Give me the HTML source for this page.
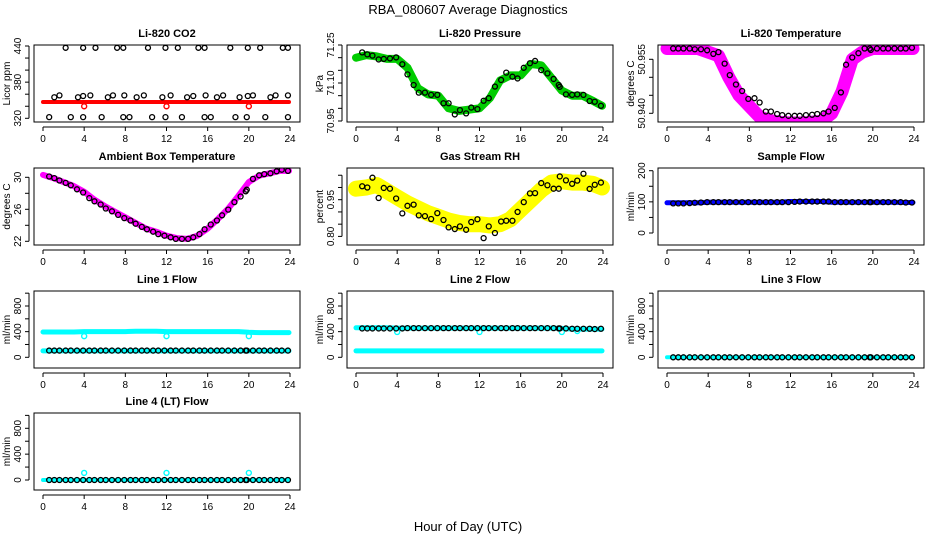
<!DOCTYPE html>
<html><head><meta charset="utf-8"><style>
body{margin:0;background:#fff;}
svg{display:block;font-family:"Liberation Sans",Arial,sans-serif;}
</style></head><body>
<svg id="fig" width="936" height="540" viewBox="0 0 936 540">
<text x="468" y="14" text-anchor="middle" font-size="13">RBA_080607  Average Diagnostics</text>
<text x="468" y="531" text-anchor="middle" font-size="13">Hour of Day (UTC)</text>
</svg>
<script>
// ---- data ----
const hours = [0,1,2,3,4,5,6,7,8,9,10,11,12,13,14,15,16,17,18,19,20,21,22,23,23.9];
const dotT = [0.6,1.1,1.6,2.2,2.7,3.3,3.9,4.5,5.0,5.6,6.1,6.7,7.3,7.9,8.5,9.0,9.6,10.1,10.7,11.2,11.8,12.4,12.9,13.5,14.1,14.6,15.2,15.7,16.3,16.9,17.4,18.0,18.6,19.2,19.7,19.8,20.4,21.0,21.5,22.1,22.7,23.2,23.8];

const co2Band = [347,347,347,347,347,347,347,347,347,347,347,347,347,347,347,347,347,347,347,347,347,347,347,347,347];
const co2DotT = [2.2,3.9,5.1,7.2,7.8,10.2,11.9,13.1,15.1,15.7,18.2,19.9,21.1,23.3,23.8,1.1,1.6,3.4,3.9,4.6,6.3,6.8,7.9,9.1,9.8,11.6,12.4,14,14.6,15.8,16.9,17.5,19.1,19.9,20.4,22.1,22.6,23.8,0.6,2.7,3.9,5.7,7.8,8.4,10.6,11.9,13.5,15.7,16.3,18.7,19.8,21.6,23.8];
const co2DotV = [437,437,437,437,437,437,437,437,437,437,437,437,437,437,437,355,358,355,357,358,355,358,358,355,358,355,358,355,357,358,355,358,355,357,358,355,358,358,322,322,322,322,322,322,322,322,322,322,322,322,322,322,322];
const co2OutT = [4,12,20];
const co2OutV = [340,340,340];

const presBand = [71.20,71.21,71.205,71.195,71.195,71.16,71.08,71.055,71.05,71.0,70.99,70.995,71.0,71.04,71.11,71.13,71.13,71.175,71.17,71.12,71.07,71.05,71.05,71.03,71.01];
const presDotV = [71.221,71.213,71.208,71.193,71.195,71.197,71.201,71.174,71.134,71.092,71.062,71.062,71.053,71.053,71.02,71.02,70.976,70.993,70.98,71.003,70.997,71.03,71.04,71.086,71.112,71.141,71.125,71.118,71.16,71.178,71.187,71.151,71.138,71.116,71.092,71.085,71.055,71.053,71.055,71.053,71.029,71.026,71.01];

const tempBand = [50.958,50.958,50.958,50.958,50.957,50.956,50.950,50.945,50.942,50.939,50.938,50.9375,50.9373,50.9373,50.9375,50.9378,50.940,50.946,50.955,50.957,50.958,50.958,50.958,50.958,50.958];
const tempDotV = [50.958,50.958,50.958,50.958,50.9578,50.9578,50.9575,50.9565,50.957,50.9538,50.9506,50.948,50.9462,50.944,50.9442,50.943,50.9405,50.9405,50.9398,50.9395,50.9393,50.9393,50.9393,50.9395,50.9396,50.9398,50.94,50.9405,50.9415,50.9458,50.9535,50.9555,50.9567,50.958,50.958,50.9576,50.958,50.958,50.958,50.958,50.958,50.958,50.9582];

const ambBand = [30.3,29.9,29.4,28.9,28.2,27.2,26.4,25.7,25.0,24.3,23.6,23.2,22.7,22.4,22.3,22.7,23.6,24.8,26.1,27.7,29.4,30.2,30.5,30.8,30.8];
const ambDotV = [30.1,29.9,29.6,29.3,29.0,28.5,28.1,27.4,27.0,26.6,26.1,25.75,25.3,24.9,24.6,24.2,23.8,23.5,23.2,22.9,22.7,22.5,22.3,22.3,22.3,22.5,22.9,23.5,24.1,24.6,25.25,25.96,26.9,27.6,28.25,28.45,29.8,30.25,30.4,30.5,30.75,30.95,30.8];

const rhBand = [0.995,1.0,1.01,0.985,0.96,0.935,0.915,0.895,0.88,0.865,0.855,0.85,0.85,0.845,0.85,0.87,0.91,0.95,0.99,1.02,1.025,1.02,1.02,1.015,1.0];
const rhDotV = [1.005,1.0,1.04,0.957,0.998,0.995,0.955,0.894,0.925,0.93,0.886,0.883,0.871,0.895,0.867,0.837,0.83,0.841,0.827,0.859,0.87,0.793,0.841,0.814,0.861,0.864,0.864,0.9,0.94,0.976,0.977,1.018,1.009,0.995,0.995,1.045,1.029,1.015,1.028,1.056,0.994,1.011,1.02];

const sampBand = [97,97,97,97,99,99,99,99,99,99,99,99,101,101,101,101,99,99,99,99,99,99,99,98,98];
const sampDotV = [95,95,95,96,97,98,99,99,99,99,99,99,99,99,99,99,99,99,99,99,99,100,101,101,101,101,101,101,99,99,99,99,99,99,99,99,99,99,99,99,99,98,98];

const l1BandHi = [395,395,395,395,400,400,400,400,400,405,405,405,400,400,400,400,400,400,400,400,390,385,385,385,385];
const l1BandLo = [100,100,100,100,100,100,100,100,100,100,100,100,100,100,100,100,100,100,100,100,100,100,100,100,100];
const l1DotV = [105,105,105,105,105,105,105,105,105,105,105,105,105,105,105,105,105,105,105,105,105,105,105,105,105,105,105,105,105,105,105,105,105,105,105,105,105,105,105,105,105,105,105];
const l1OutT = [4,12,20];
const l1OutV = [330,330,330];

const l2BandHi = [460,460,460,460,455,455,455,455,455,455,455,455,455,455,455,455,455,455,455,455,450,440,440,440,440];
const l2BandLo = [100,100,100,100,100,100,100,100,100,100,100,100,100,100,100,100,100,100,100,100,100,100,100,100,100];
const l2DotV = [450,450,450,450,450,450,450,450,455,455,455,455,455,455,455,455,455,455,455,455,455,455,455,455,455,455,455,455,455,455,455,455,455,455,450,450,450,445,445,445,445,440,445];
const l2OutT = [4,12,20,21.5];
const l2OutV = [395,395,395,410];

const l3Band = [0,0,0,0,0,0,0,0,0,0,0,0,0,0,0,0,0,0,0,0,0,0,0,0,0];
const l3DotV = [0,0,0,0,0,0,0,0,0,0,0,0,0,0,0,0,0,0,0,0,0,0,0,0,0,0,0,0,0,0,0,0,0,0,0,0,0,0,0,0,0,0,0];
const l4Band = [0,0,0,0,0,0,0,0,0,0,0,0,0,0,0,0,0,0,0,0,0,0,0,0,0];
const l4DotV = [0,0,0,0,0,0,0,0,0,0,0,0,0,0,0,0,0,0,0,0,0,0,0,0,0,0,0,0,0,0,0,0,0,0,0,0,0,0,0,0,0,0,0];
const l4OutT = [4,12,20];
const l4OutV = [110,110,110];

const xTicks = [0,4,8,12,16,20,24];

// ---- drawing ----
const NS = 'http://www.w3.org/2000/svg';
const svg = document.getElementById('fig');
function mk(tag, attrs, parent){
  const e = document.createElementNS(NS, tag);
  for (const k in attrs) e.setAttribute(k, attrs[k]);
  (parent||svg).appendChild(e);
  return e;
}
const panels = [
 {id:'co2', title:'Li-820 CO2', ylab:'Licor ppm', x:34,y:45, ref:[440,46,320,118.3], ticks:[320,340,360,380,400,420,440], labels:[320,380,440], fmt:v=>String(v),
  bands:[[co2Band,'#ff0000',4]], dots:[[co2DotT,co2DotV]], outs:[[co2OutT,co2OutV,'#ff0000']]},
 {id:'pressure', title:'Li-820 Pressure', ylab:'kPa', x:347,y:45, ref:[71.25,45,70.95,121], ticks:[70.95,71.0,71.05,71.1,71.15,71.2,71.25], labels:[70.95,71.1,71.25], fmt:v=>v.toFixed(2),
  bands:[[presBand,'#00cc00',8]], dots:[[dotT,presDotV]], outs:[]},
 {id:'temperature', title:'Li-820 Temperature', ylab:'degrees C', x:658,y:45, ref:[50.955,59.3,50.940,113.3], ticks:[50.94,50.945,50.95,50.955], labels:[50.94,50.955], fmt:v=>v.toFixed(3),
  bands:[[tempBand,'#ff00ff',13]], dots:[[dotT,tempDotV]], outs:[]},
 {id:'ambient', title:'Ambient Box Temperature', ylab:'degrees C', x:34,y:168, ref:[30,177.3,22,241.3], ticks:[22,24,26,28,30], labels:[22,26,30], fmt:v=>String(v),
  bands:[[ambBand,'#ff00ff',6]], dots:[[dotT,ambDotV]], outs:[]},
 {id:'rh', title:'Gas Stream RH', ylab:'percent', x:347,y:168, ref:[0.95,199.7,0.80,236.4], ticks:[0.8,0.85,0.9,0.95,1.0,1.05], labels:[0.8,0.95], fmt:v=>v.toFixed(2),
  bands:[[rhBand,'#ffff00',16]], dots:[[dotT,rhDotV]], outs:[]},
 {id:'sample-flow', title:'Sample Flow', ylab:'ml/min', x:658,y:168, ref:[200,170.7,0,233], ticks:[0,50,100,150,200], labels:[0,100,200], fmt:v=>String(v),
  bands:[[sampBand,'#0000ff',5]], dots:[[dotT,sampDotV]], outs:[]},
 {id:'line1-flow', title:'Line 1 Flow', ylab:'ml/min', x:34,y:291, ref:[800,306,0,357.3], ticks:[0,200,400,600,800,1000], labels:[0,400,800], fmt:v=>String(v),
  bands:[[l1BandHi,'#00ffff',5],[l1BandLo,'#00ffff',5]], dots:[[dotT,l1DotV]], outs:[[l1OutT,l1OutV,'#00ffff']]},
 {id:'line2-flow', title:'Line 2 Flow', ylab:'ml/min', x:347,y:291, ref:[800,306,0,357.3], ticks:[0,200,400,600,800,1000], labels:[0,400,800], fmt:v=>String(v),
  bands:[[l2BandHi,'#00ffff',5],[l2BandLo,'#00ffff',5]], dots:[[dotT,l2DotV]], outs:[[l2OutT,l2OutV,'#00ffff']]},
 {id:'line3-flow', title:'Line 3 Flow', ylab:'ml/min', x:658,y:291, ref:[800,306,0,357.3], ticks:[0,200,400,600,800,1000], labels:[0,400,800], fmt:v=>String(v),
  bands:[[l3Band,'#00ffff',4]], dots:[[dotT,l3DotV]], outs:[]},
 {id:'line4-flow', title:'Line 4 (LT) Flow', ylab:'ml/min', x:34,y:413, ref:[800,428.3,0,480], ticks:[0,200,400,600,800,1000], labels:[0,400,800], fmt:v=>String(v),
  bands:[[l4Band,'#00ffff',4]], dots:[[dotT,l4DotV]], outs:[[l4OutT,l4OutV,'#00ffff']]}
];
const W = 266, H = 77;
panels.forEach(p=>{
  const g = mk('g',{});
  
  
  const X = t => p.x + 9 + t*247/24;
  const [v1,y1,v2,y2] = p.ref;
  const Y = v => y1 + (v - v1)*(y2 - y1)/(v2 - v1);
  const clipId = 'clip-' + p.id;
  const cp = mk('clipPath',{id:clipId}, g);
  mk('rect',{x:p.x,y:p.y,width:W,height:H}, cp);
  const data = mk('g',{'clip-path':'url(#'+clipId+')'}, g);
  
  
  p.bands.forEach(b=>{
    const pts = b[0].map((v,i)=>X(hours[i]).toFixed(1)+','+Y(v).toFixed(1)).join(' ');
    const pl = mk('polyline',{points:pts, fill:'none', stroke:b[1], 'stroke-width':b[2], 'stroke-linejoin':'round','stroke-linecap':'round'}, data);
    
    
  });
  p.outs.forEach(o=>{
    o[0].forEach((t,i)=>{
      const c = mk('circle',{cx:X(t),cy:Y(o[1][i]),r:2.5,fill:'none',stroke:o[2],'stroke-width':1.4}, data);
      
      
    });
  });
  p.dots.forEach(d=>{
    d[0].forEach((t,i)=>{
      const c = mk('circle',{cx:X(t),cy:Y(d[1][i]),r:2.5,fill:'none',stroke:'#000','stroke-width':1.3}, data);
      
      
    });
  });
  const box = mk('rect',{x:p.x,y:p.y,width:W,height:H,fill:'none',stroke:'#000','stroke-width':1}, g);
  
  
  const tt = mk('text',{x:p.x+W/2,y:p.y-8,'text-anchor':'middle','font-size':11,'font-weight':'bold'}, g);
  tt.textContent = p.title;
  
  
  // x axis
  const bot = p.y + H;
  mk('line',{x1:X(0),x2:X(24),y1:bot+5,y2:bot+5,stroke:'#000'}, g);
  xTicks.forEach(t=>{
    mk('line',{x1:X(t),x2:X(t),y1:bot+5,y2:bot+9,stroke:'#000'}, g);
    const l = mk('text',{x:X(t),y:bot+20,'text-anchor':'middle','font-size':10}, g);
    l.textContent = t;
    
    
  });
  // y axis
  const ax = p.x - 5;
  const tv = p.ticks.filter(v=>Y(v)>=p.y-3 && Y(v)<=bot+3);
  mk('line',{x1:ax,x2:ax,y1:Y(tv[0]),y2:Y(tv[tv.length-1]),stroke:'#000'}, g);
  tv.forEach(v=>{ mk('line',{x1:ax-4,x2:ax,y1:Y(v),y2:Y(v),stroke:'#000'}, g); });
  p.labels.forEach(v=>{
    const cx = p.x - 13, cy = Y(v);
    const l = mk('text',{x:cx,y:cy,'text-anchor':'middle','font-size':10,transform:'rotate(-90 '+cx+' '+cy+')'}, g);
    l.textContent = p.fmt(v);
    
    
  });
  const lx = p.x - 24, ly = p.y + H/2;
  const yl = mk('text',{x:lx,y:ly,'text-anchor':'middle','font-size':10,transform:'rotate(-90 '+lx+' '+ly+')'}, g);
  yl.textContent = p.ylab;
  
  
});
</script>
</body></html>
